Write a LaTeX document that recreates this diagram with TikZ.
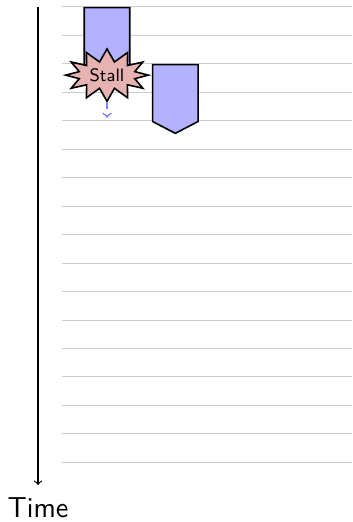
\documentclass[tikz,border=0pt]{standalone}
\usetikzlibrary{shapes.symbols}
\definecolor{stallred}{RGB}{230,178,178}
\begin{document}
\begin{tikzpicture}[
  font=\sffamily,
  slot/.style={draw=gray!40, line width=0.4pt},
  stage/.style={draw, thick, fill=blue!30, signal, signal to=south, signal pointer angle=125, minimum width=0.8cm, minimum height=1cm, inner sep=0pt, anchor=north},
  stall/.style={draw, thick, fill=stallred, starburst, starburst points=12, random starburst=0, starburst point height=0.22cm, inner sep=1.5pt, font=\sffamily\small},
  bubble/.style={->, dashed, blue!50, thick}
]
  \useasboundingbox (0,0.12) rectangle (6.19,-9.05);
  \foreach \k in {0,...,16}
    \draw[slot] (1.09,-0.5*\k) -- (6.19,-0.5*\k);

  \coordinate (t0) at (0.668,0);
  \coordinate (t1) at (0.668,-8.4);
  \node[font=\sffamily\Large, anchor=north] (time) at (0.668,-8.5) {Time};
  \draw[->, semithick] (t0) -- (t1);

  \node[stage] (fetch) at (1.88,0) {};
  \node[stage] (decode) at (3.08,-1) {};
  \node[stall] (stall) at (1.88,-1.2) {Stall};

  \coordinate (drain) at (1.88,-1.95);
  \draw[bubble] (stall) -- (drain);
\end{tikzpicture}
\end{document}
